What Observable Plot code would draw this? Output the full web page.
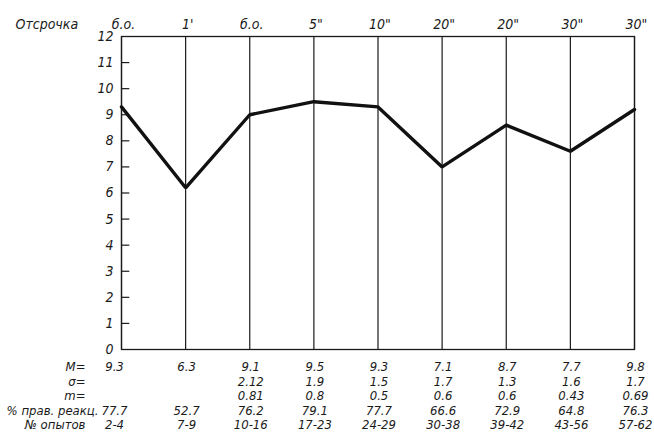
<!DOCTYPE html>
<html>
<head>
<meta charset="utf-8">
<script src="https://cdn.jsdelivr.net/npm/d3@7"></script>
<script src="https://cdn.jsdelivr.net/npm/@observablehq/plot@0.6"></script>
<style>
  html, body { margin: 0; padding: 0; background: #fff; }
  #chart svg { display: block; }
  #chart svg text { font-stretch: condensed; }
</style>
</head>
<body>
<div id="chart"></div>
<script>
// ---- data ----
const delays = ["б.о.", "1'", "б.о.", "5\"", "10\"", "20\"", "20\"", "30\"", "30\""];
const lineValues = [9.3, 6.2, 9.0, 9.5, 9.3, 7.0, 8.6, 7.6, 9.2];
const rowM = ["9.3", "6.3", "9.1", "9.5", "9.3", "7.1", "8.7", "7.7", "9.8"];
const rowSigma = ["", "", "2.12", "1.9", "1.5", "1.7", "1.3", "1.6", "1.7"];
const rowSmallM = ["", "", "0.81", "0.8", "0.5", "0.6", "0.6", "0.43", "0.69"];
const rowPercent = ["77.7", "52.7", "76.2", "79.1", "77.7", "66.6", "72.9", "64.8", "76.3"];
const rowTrials = ["2-4", "7-9", "10-16", "17-23", "24-29", "30-38", "39-42", "43-56", "57-62"];
const rowLabels = ["M=", "σ=", "m=", "% прав. реакц.", "№ опытов"];
const headerLabel = "Отсрочка";
const yTicks = [0, 1, 2, 3, 4, 5, 6, 7, 8, 9, 10, 11, 12];

// ---- build table ----
const cols = delays.map((d, i) => ({
  i, delay: d, value: lineValues[i],
  M: rowM[i], s: rowSigma[i], m: rowSmallM[i], p: rowPercent[i], n: rowTrials[i]
}));
const rows = ["M", "s", "m", "p", "n"];
const rowDy = [17, 32, 46, 61, 75];
const labelDx = [-36, -36, -36, -23, -36];

const ink = "#1a1a1a";
const font = "'DejaVu Sans', sans-serif";

const rowMarks = [];
rows.forEach((key, r) => {
  rowMarks.push(Plot.text(cols.filter(d => d.i === 0), {
    x: "i", text: key, frameAnchor: "bottom", lineAnchor: "middle", dy: rowDy[r], dx: -7, fill: ink
  }));
  rowMarks.push(Plot.text(cols.filter(d => d.i > 0), {
    x: "i", text: key, frameAnchor: "bottom", lineAnchor: "middle", dy: rowDy[r], dx: 1, fill: ink
  }));
  rowMarks.push(Plot.text([rowLabels[r]], {
    x: () => 0, text: d => d, frameAnchor: "bottom", lineAnchor: "middle", dy: rowDy[r], dx: labelDx[r],
    textAnchor: "end", fill: ink
  }));
});

const chart = Plot.plot({
  width: 654,
  height: 436,
  marginLeft: 121,
  marginRight: 20,
  marginTop: 36,
  marginBottom: 87,
  style: { fontFamily: font, fontStyle: "italic", fontSize: "13px", color: ink, background: "#fff" },
  x: { domain: [0, 8], axis: null },
  y: { domain: [0, 12], axis: null },
  marks: [
    Plot.ruleX(cols, { x: "i", y1: 0, y2: 12, stroke: ink, strokeWidth: 1.2 }),
    Plot.frame({ stroke: ink, strokeWidth: 1.3 }),
    Plot.ruleY(yTicks.filter(t => t > 0 && t < 12), { y: d => d, x1: 0, x2: 0.13, stroke: ink, strokeWidth: 1.2 }),
    Plot.axisY({ ticks: yTicks, tickSize: 0, tickPadding: 8, label: null, tickFormat: d => String(d), fontSize: 14, fill: ink }),
    Plot.line(cols, { x: "i", y: "value", stroke: "#111", strokeWidth: 3.4, strokeLinejoin: "miter" }),
    Plot.text(cols, { x: "i", text: "delay", frameAnchor: "top", lineAnchor: "middle", dy: -12, dx: 2, fill: ink, fontSize: 14 }),
    Plot.text([headerLabel], { x: () => 0, text: d => d, frameAnchor: "top", lineAnchor: "middle", dy: -12, dx: -106, textAnchor: "start", fill: ink, fontSize: 14 }),
    ...rowMarks
  ]
});
document.getElementById("chart").append(chart);
</script>
</body>
</html>
